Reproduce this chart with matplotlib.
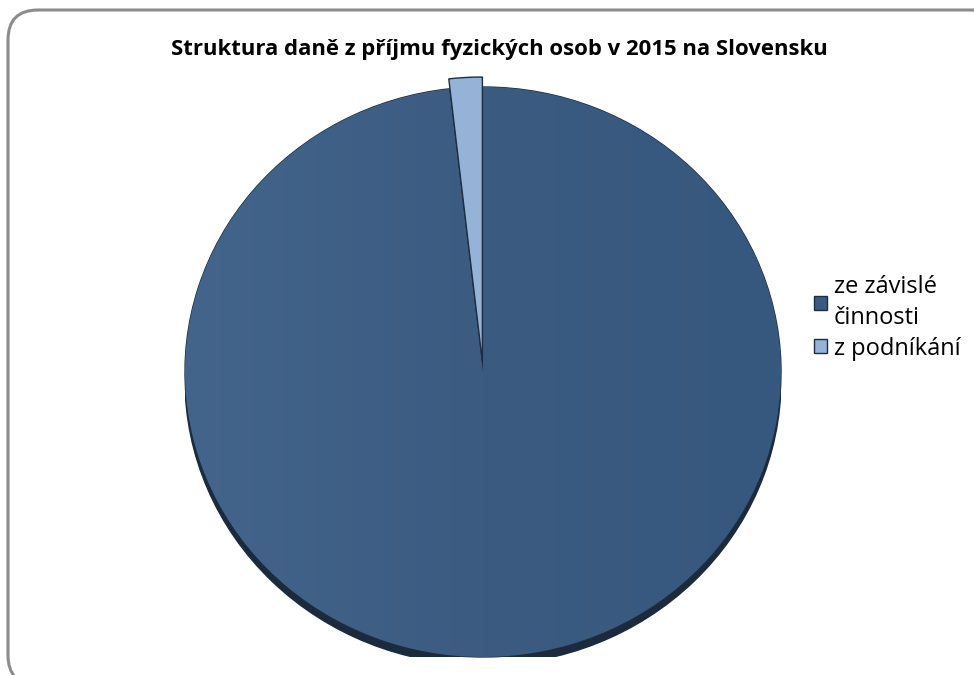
import numpy as np
import matplotlib.pyplot as plt
from matplotlib.patches import FancyBboxPatch, Ellipse
from matplotlib.colors import LinearSegmentedColormap

# data
labels = ["ze závislé\nčinnosti", "z podníkání"]
shares = [98.2, 1.8]
colors = ["#3a5a80", "#95b3d7"]
explode = [0, 0.035]
title = "Struktura daně z příjmu fyzických osob v 2015 na Slovensku"

plt.rcParams['font.family'] = ['Open Sans', 'DejaVu Sans']

fig = plt.figure(figsize=(9.74, 6.75), dpi=100)

# rounded frame, running off the right and bottom edges like the original
frame = FancyBboxPatch((0.08, -0.10), 9.95, 6.75,
                       boxstyle="round,pad=0,rounding_size=0.3",
                       transform=fig.dpi_scale_trans, fill=False,
                       edgecolor="#8c8c8c", linewidth=2.2)
fig.add_artist(frame)

cx, cy, rx, ry = 483, 372, 298, 285
ax = fig.add_axes([(cx - rx) / 974, (675 - cy - ry) / 675, 2 * rx / 974, 2 * ry / 675])

# shadow under the pie
ax.add_patch(Ellipse((0, -0.028), 2.0, 2.0, color="#1b2a3d", zorder=0))

wedges, _ = ax.pie(shares, colors=colors, explode=explode, startangle=90,
                   counterclock=False,
                   wedgeprops=dict(edgecolor="#1e2d40", linewidth=1.0))

# soft light-to-dark shading on the big slice
grad = np.linspace(0, 1, 256)[None, :]
cmap = LinearSegmentedColormap.from_list("g", ["#44658b", "#3b5b81", "#37587e"])
im = ax.imshow(grad, extent=[-1, 1, -1, 1], cmap=cmap, zorder=1.5, aspect="auto")
im.set_clip_path(wedges[0])
wedges[0].set_zorder(1)
wedges[1].set_zorder(2)

ax.set_xlim(-1, 1)
ax.set_ylim(-1, 1)
ax.set_aspect("auto")
ax.axis("off")

fig.text(499 / 974, 1 - 49 / 675, title, ha="center", va="center",
         fontsize=15.9, fontweight="bold")

leg = fig.legend(wedges, labels, loc="center left", bbox_to_anchor=(802 / 974, 1 - 318 / 675),
                 frameon=False, fontsize=17, handlelength=0.55, handleheight=0.55,
                 handletextpad=0.3, labelspacing=0.3, borderpad=0)
for t in leg.get_texts():
    t.set_linespacing(1.35)

fig.savefig("out.png", dpi=100)
